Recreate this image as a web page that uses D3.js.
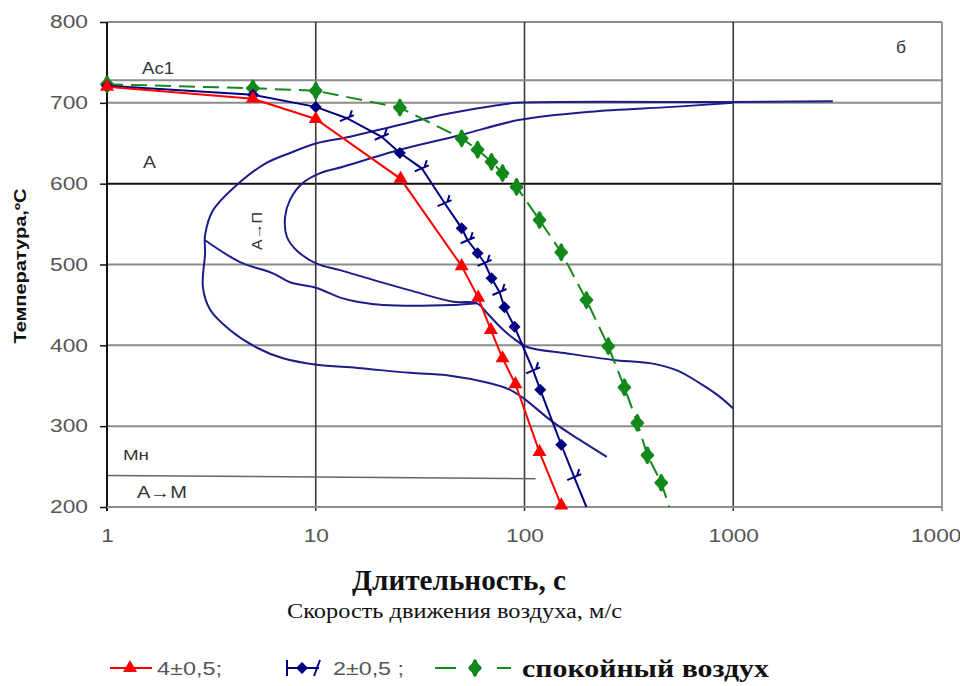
<!DOCTYPE html>
<html>
<head>
<meta charset="utf-8">
<script src="https://cdn.jsdelivr.net/npm/d3@7"></script>
<style>
  body { margin: 0; background: #fff; }
  svg { display: block; }
</style>
</head>
<body>
<svg id="chart" width="960" height="686"></svg>
<script>
// cooling curves, time in s, temperature in C
const redTime = [1, 5, 10, 25.5, 50, 60, 69, 78.5, 90.5, 118, 150];
const redTemp = [720, 705, 680, 606, 498, 459, 419, 384, 352, 268, 202];

const blueTime = [1, 5, 10, 14.1, 20.7, 25.3, 32.2, 41.4, 50, 53.4, 59.6, 64.4, 69.5, 75.9, 80.2, 89.6, 110, 119, 150, 173, 198];
const blueTemp = [721, 710, 695, 681, 658, 638, 619, 576, 545, 530, 514, 502, 483, 466, 447, 423, 369, 345, 277, 237, 200];
const blueMark = ["d", "d", "d", "t", "t", "d", "t", "t", "d", "t", "d", "t", "d", "t", "d", "d", "t", "d", "d", "t", ""];

const greenTime = [1, 5, 10, 25.3, 50, 59.6, 69.5, 78.5, 91.6, 118, 150, 198, 252, 301, 347, 388, 452, 494];
const greenTemp = [723, 718, 715, 694, 656, 642, 627, 613, 596, 555, 515, 456, 399, 348, 304, 264, 230, 200];

// transformation diagram lines
const outerTime = [3000, 1000, 92, 74, 44, 25.3, 14.6, 10.1, 7.53, 5.84, 4.34, 3.22, 2.95, 2.95, 2.88, 3.12, 3.88, 5.23, 6.97, 10.1, 15.8, 28.3, 42.5, 68.4, 85.3, 98.4, 137, 184, 248];
const outerTemp = [702, 701, 700, 697, 687, 673, 658, 650, 638, 626, 602, 567, 536, 514, 472, 444, 419, 397, 384, 376, 372, 366, 363, 353, 345, 335, 305, 283, 262];

const branchTime = [2.95, 4.34, 6.24, 7.53, 10.1, 13.1, 15.8, 21, 45.5, 59.2];
const branchTemp = [530, 503, 489, 478, 471, 459, 454, 450, 450, 452];

const innerTime = [1000, 514, 206, 95, 49.1, 25.3, 13.5, 10.5, 8.69, 7.53, 7.13, 7.28, 8.13, 10.1, 13.1, 18.8, 28.3, 45.5, 59.2, 66.1, 76.3, 88.1, 103, 160, 265, 399, 538, 693, 836, 1000];
const innerTemp = [700, 695, 689, 679, 660, 642, 621, 613, 601, 580, 559, 534, 517, 501, 493, 481, 468, 454, 452, 440, 423, 409, 398, 390, 382, 378, 369, 353, 339, 322];

const mnTime = [1, 113];
const mnTemp = [239, 235];
const ac1Temp = 728;

const yTicks = [200, 300, 400, 500, 600, 700, 800];
const xTicks = [1, 10, 100, 1000, 10000];

const svg = d3.select("#chart");
const sans = "'Liberation Sans', Arial, sans-serif";
const serif = "'Liberation Serif', 'Times New Roman', serif";

var x = d3.scaleLog().domain([1, 10000]).range([107, 942]);
var y = d3.scaleLinear().domain([200, 800]).range([507, 22]);

const pts = (ts, vs) => ts.map((t, i) => [t, vs[i]]);
const line = d3.line().x(d => x(d[0])).y(d => y(d[1]));
const smooth = d3.line().x(d => x(d[0])).y(d => y(d[1])).curve(d3.curveCatmullRom.alpha(0.5));

// grid
svg.append("g").selectAll("line")
    .data(yTicks.slice(1))
    .enter().append("line")
    .attr("x1", x(1)).attr("x2", x(10000))
    .attr("y1", d => y(d)).attr("y2", d => y(d))
    .attr("stroke", d => d === 600 ? "#111" : "#8c8c8c")
    .attr("stroke-width", 2);

svg.append("g").selectAll("line")
    .data([10, 100, 1000])
    .enter().append("line")
    .attr("x1", d => x(d)).attr("x2", d => x(d))
    .attr("y1", y(800)).attr("y2", y(200) + 4)
    .attr("stroke", "#3a3a3a")
    .attr("stroke-width", 1.6);

svg.append("line")
    .attr("x1", x(10000)).attr("x2", x(10000))
    .attr("y1", y(800)).attr("y2", y(200) + 4)
    .attr("stroke", "#999").attr("stroke-width", 2);

// Ac1 and Mn
svg.append("line")
    .attr("x1", x(1)).attr("x2", x(10000))
    .attr("y1", y(ac1Temp)).attr("y2", y(ac1Temp))
    .attr("stroke", "#8c8c8c").attr("stroke-width", 2);

svg.append("path")
    .attr("d", line(pts(mnTime, mnTemp)))
    .attr("fill", "none").attr("stroke", "#666").attr("stroke-width", 1.5);

// axes
var yAxis = svg.append("g")
    .attr("transform", `translate(${x(1)},0)`)
    .call(d3.axisLeft(y).tickValues(yTicks).tickSize(7).tickPadding(12));
yAxis.select(".domain").attr("stroke", "#111").attr("stroke-width", 2)
    .attr("d", `M0,${y(200) + 4}V${y(800)}`);
yAxis.selectAll(".tick line").attr("stroke", "#111").attr("stroke-width", 1.5);
yAxis.selectAll("text").attr("font-family", sans).attr("font-size", 18).attr("fill", "#555")
    .attr("textLength", 38).attr("lengthAdjust", "spacingAndGlyphs");

svg.append("line")
    .attr("x1", x(1)).attr("x2", x(10000))
    .attr("y1", y(200)).attr("y2", y(200))
    .attr("stroke", "#8c8c8c").attr("stroke-width", 2);

var xAxis = svg.append("g")
    .attr("transform", `translate(0,${y(200)})`)
    .call(d3.axisBottom(x).tickValues(xTicks).tickFormat(d3.format("d")).tickSize(0).tickPadding(22));
xAxis.select(".domain").remove();
xAxis.selectAll("text").attr("font-family", sans).attr("font-size", 18).attr("fill", "#555")
    .attr("textLength", d => String(d).length * 12.6).attr("lengthAdjust", "spacingAndGlyphs");

// transformation curves
[pts(outerTime, outerTemp), pts(branchTime, branchTemp), pts(innerTime, innerTemp)].forEach(p => {
    svg.append("path")
        .attr("d", smooth(p))
        .attr("fill", "none")
        .attr("stroke", "#1c1c8a")
        .attr("stroke-width", 2);
});

// cooling curves
svg.append("path")
    .attr("d", line(pts(greenTime, greenTemp)))
    .attr("fill", "none").attr("stroke", "#12891a").attr("stroke-width", 2)
    .attr("stroke-dasharray", "16,8");

svg.append("path")
    .attr("d", line(pts(blueTime, blueTemp)))
    .attr("fill", "none").attr("stroke", "#000080").attr("stroke-width", 2);

svg.append("path")
    .attr("d", line(pts(redTime, redTemp)))
    .attr("fill", "none").attr("stroke", "#ff0000").attr("stroke-width", 2);

var tri = d3.symbol(d3.symbolTriangle, 85);
var dia = "M0,-6L6,0L0,6L-6,0Z";
var gdia = "M0,-7L1.5,-3.5L5,0L1.5,3.5L0,7L-1.5,3.5L-5,0L-1.5,-3.5Z";

svg.append("g").selectAll("path")
    .data(pts(greenTime, greenTemp).slice(0, -1))
    .enter().append("path")
    .attr("transform", d => `translate(${x(d[0])},${y(d[1])})`)
    .attr("d", gdia).attr("fill", "#12891a").attr("stroke", "#12891a").attr("stroke-width", 3.5)
    .attr("stroke-linejoin", "round");

var bp = pts(blueTime, blueTemp);
svg.append("g").selectAll("path")
    .data(bp.filter((d, i) => blueMark[i] === "d"))
    .enter().append("path")
    .attr("transform", d => `translate(${x(d[0])},${y(d[1])})`)
    .attr("d", dia).attr("fill", "#000080");
svg.append("g").selectAll("path")
    .data(bp.filter((d, i) => blueMark[i] === "t"))
    .enter().append("path")
    .attr("transform", d => `translate(${x(d[0])},${y(d[1])})`)
    .attr("d", "M-7,3L7,-3M3,-2L5,-8")
    .attr("stroke", "#000080").attr("stroke-width", 2).attr("fill", "none");

svg.append("g").selectAll("path")
    .data(pts(redTime, redTemp))
    .enter().append("path")
    .attr("transform", d => `translate(${x(d[0])},${y(d[1])})`)
    .attr("d", tri).attr("fill", "#ff0000");

// labels inside plot
function label(tx, ty, s, size, w, rot) {
    var t = svg.append("text")
        .attr("x", tx).attr("y", ty)
        .attr("font-family", sans).attr("font-size", size)
        .attr("fill", "#333").text(s);
    if (w) t.attr("textLength", w).attr("lengthAdjust", "spacingAndGlyphs");
    if (rot) t.attr("transform", `rotate(${rot},${tx},${ty})`).attr("text-anchor", "middle");
    return t;
}
label(142, 74, "Ас1", 16, 32);
label(143, 168, "А", 16, 13);
label(123, 460, "Мн", 14, 26);
label(137, 498, "А→М", 16, 50);
label(262, 231, "А→П", 14, 38, -90);
label(896, 53, "б", 16, 10);

// axis titles
svg.append("text")
    .attr("transform", "translate(26,266) rotate(-90)")
    .attr("text-anchor", "middle")
    .attr("font-family", sans).attr("font-weight", "bold").attr("font-size", 16)
    .attr("textLength", 155).attr("lengthAdjust", "spacingAndGlyphs")
    .attr("fill", "#111")
    .text("Температура,ºС");

svg.append("text")
    .attr("x", 352).attr("y", 590)
    .attr("font-family", serif).attr("font-weight", "bold").attr("font-size", 29)
    .attr("textLength", 214).attr("lengthAdjust", "spacingAndGlyphs")
    .attr("fill", "#111")
    .text("Длительность, с");

svg.append("text")
    .attr("x", 287).attr("y", 618)
    .attr("font-family", serif).attr("font-size", 20)
    .attr("textLength", 335).attr("lengthAdjust", "spacingAndGlyphs")
    .attr("fill", "#111")
    .text("Скорость движения воздуха, м/с");

// legend
var ly = 668;
var lg = svg.append("g");
lg.append("line").attr("x1", 110).attr("x2", 152).attr("y1", ly).attr("y2", ly)
    .attr("stroke", "#ff0000").attr("stroke-width", 2);
lg.append("path").attr("transform", `translate(130,${ly})`).attr("d", tri).attr("fill", "#ff0000");
lg.append("text").attr("x", 157).attr("y", ly + 7)
    .attr("font-family", sans).attr("font-size", 18).attr("fill", "#555")
    .attr("textLength", 65).attr("lengthAdjust", "spacingAndGlyphs").text("4±0,5;");

lg.append("line").attr("x1", 286).attr("x2", 319).attr("y1", ly).attr("y2", ly)
    .attr("stroke", "#000080").attr("stroke-width", 2);
lg.append("path").attr("transform", `translate(302,${ly})`).attr("d", dia).attr("fill", "#000080");
lg.append("path").attr("d", `M287,${ly - 8}L287,${ly + 8}M314,${ly + 8}L320,${ly - 8}`)
    .attr("stroke", "#000080").attr("stroke-width", 2);
lg.append("text").attr("x", 333).attr("y", ly + 7)
    .attr("font-family", sans).attr("font-size", 18).attr("fill", "#555")
    .attr("textLength", 71).attr("lengthAdjust", "spacingAndGlyphs").text("2±0,5 ;");

lg.append("path").attr("d", `M435,${ly}L456,${ly}M497,${ly}L511,${ly}`)
    .attr("stroke", "#12891a").attr("stroke-width", 2);
lg.append("path").attr("transform", `translate(475,${ly})`).attr("d", gdia)
    .attr("fill", "#12891a").attr("stroke", "#12891a").attr("stroke-width", 3.5).attr("stroke-linejoin", "round");
lg.append("text").attr("x", 522).attr("y", ly + 9)
    .attr("font-family", serif).attr("font-weight", "bold").attr("font-size", 25)
    .attr("textLength", 247).attr("lengthAdjust", "spacingAndGlyphs")
    .attr("fill", "#111").text("спокойный воздух");
</script>
</body>
</html>
